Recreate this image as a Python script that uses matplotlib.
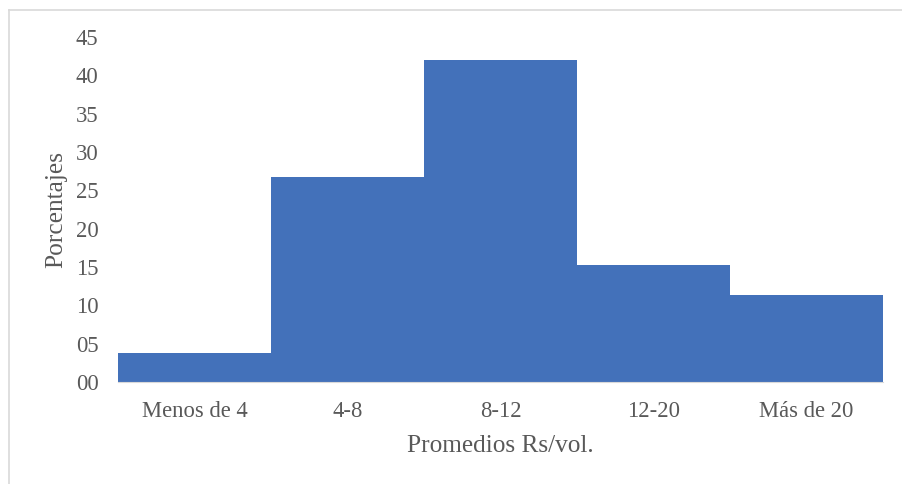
import numpy as np
import matplotlib.pyplot as plt
from matplotlib.lines import Line2D

# Data
categorias = ["Menos de 4", "4-8", "8-12", "12-20", "Más de 20"]
porcentajes = [3.8, 26.8, 42.0, 15.3, 11.4]
y_ticks = [0, 5, 10, 15, 20, 25, 30, 35, 40, 45]

plt.rcParams['font.family'] = ['Liberation Serif', 'DejaVu Serif']
gris = '#595959'

fig = plt.figure(figsize=(9.02, 4.84), dpi=100)
ax = fig.add_axes([118/902, 1-382/484, (883-118)/902, (382-37)/484])

x = np.arange(len(categorias))
ax.bar(x, porcentajes, width=1.0, color='#4371BA', linewidth=0)

ax.set_xlim(-0.5, len(categorias) - 0.5)
ax.set_ylim(0, 45)
ax.set_yticks(y_ticks)
ax.set_yticklabels([f"{v:02d}" for v in y_ticks])
ax.set_xticks(x)
ax.set_xticklabels(categorias)
ax.tick_params(axis='both', length=0, labelsize=16.3, colors=gris)
ax.tick_params(axis='y', pad=14)
ax.tick_params(axis='x', pad=14)

for s in ['top', 'right', 'left']:
    ax.spines[s].set_visible(False)
ax.spines['bottom'].set_color('#D9D9D9')

ax.set_ylabel("Porcentajes", fontsize=18.3, color=gris, labelpad=6)
ax.set_xlabel("Promedios Rs/vol.", fontsize=18.2, color=gris, labelpad=9)

# outer chart border (top and left visible)
fig.add_artist(Line2D([9/902, 9/902], [0, 1-10/484], color='#D9D9D9', lw=1.2, transform=fig.transFigure))
fig.add_artist(Line2D([9/902, 1], [1-10/484, 1-10/484], color='#D9D9D9', lw=1.2, transform=fig.transFigure))

fig.savefig("out.png", dpi=100)
